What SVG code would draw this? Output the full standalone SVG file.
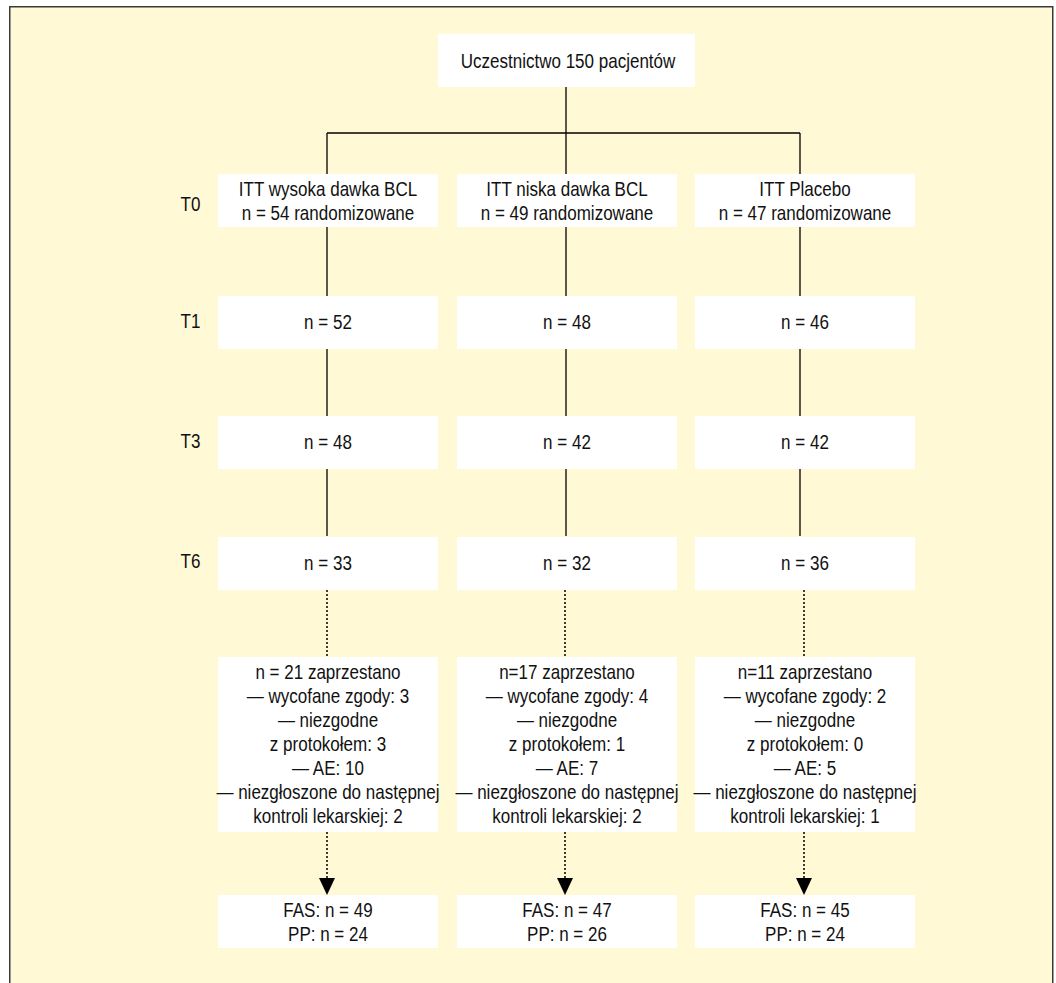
<svg xmlns="http://www.w3.org/2000/svg" width="1056" height="983" viewBox="0 0 1056 983">
<style>
.bg{fill:#FFF9D6;stroke:#3a3a3a;stroke-width:1.5}
.box{fill:#FFFFFF;stroke:none}
.t{font-family:"Liberation Sans",Arial,sans-serif;font-size:20.5px;fill:#111;text-anchor:middle;transform-box:fill-box;transform-origin:center;transform:scaleX(0.83)}
.ln{stroke:#000;stroke-width:1.3;fill:none}
.dot{stroke:#000;stroke-width:1.5;fill:none;stroke-dasharray:2,2}
.ah{fill:#000}
</style>
<rect width="1056" height="983" fill="#FFFFFF"/>
<rect class="bg" x="9.75" y="6.75" width="1043" height="990"/>
<g id="connectors">
<line class="ln" x1="566" y1="87" x2="566" y2="536"/>
<line class="ln" x1="327" y1="133" x2="800" y2="133"/>
<line class="ln" x1="327" y1="133" x2="327" y2="536"/>
<line class="ln" x1="800" y1="133" x2="800" y2="536"/>
<line class="dot" x1="327" y1="590" x2="327" y2="657"/>
<line class="dot" x1="565" y1="590" x2="565" y2="657"/>
<line class="dot" x1="804" y1="590" x2="804" y2="657"/>
<line class="dot" x1="327" y1="832" x2="327" y2="880"/>
<line class="dot" x1="565" y1="832" x2="565" y2="880"/>
<line class="dot" x1="804" y1="832" x2="804" y2="880"/>
<polygon class="ah" points="319,878 335,878 327,895"/>
<polygon class="ah" points="557,878 573,878 565,895"/>
<polygon class="ah" points="796,878 812,878 804,895"/>
</g>
<g id="labels">
<text class="t" x="190.5" y="211">T0</text>
<text class="t" x="190.5" y="328">T1</text>
<text class="t" x="190.5" y="448">T3</text>
<text class="t" x="190.5" y="568">T6</text>
</g>
<g id="start">
<rect class="box" x="438" y="34" width="257" height="53"/>
<text class="t" x="568" y="68">Uczestnictwo 150 pacjentów</text>
</g>
<g id="t0-high">
<rect class="box" x="218" y="174" width="220" height="53"/>
<text class="t" x="328" y="196">ITT wysoka dawka BCL</text>
<text class="t" x="328" y="220">n = 54 randomizowane</text>
</g>
<g id="t0-low">
<rect class="box" x="457" y="174" width="220" height="53"/>
<text class="t" x="567" y="196">ITT niska dawka BCL</text>
<text class="t" x="567" y="220">n = 49 randomizowane</text>
</g>
<g id="t0-placebo">
<rect class="box" x="695" y="174" width="220" height="53"/>
<text class="t" x="805" y="196">ITT Placebo</text>
<text class="t" x="805" y="220">n = 47 randomizowane</text>
</g>
<g id="t1-high">
<rect class="box" x="218" y="296" width="220" height="53"/>
<text class="t" x="328" y="329">n = 52</text>
</g>
<g id="t1-low">
<rect class="box" x="457" y="296" width="220" height="53"/>
<text class="t" x="567" y="329">n = 48</text>
</g>
<g id="t1-placebo">
<rect class="box" x="695" y="296" width="220" height="53"/>
<text class="t" x="805" y="329">n = 46</text>
</g>
<g id="t3-high">
<rect class="box" x="218" y="416" width="220" height="53"/>
<text class="t" x="328" y="449">n = 48</text>
</g>
<g id="t3-low">
<rect class="box" x="457" y="416" width="220" height="53"/>
<text class="t" x="567" y="449">n = 42</text>
</g>
<g id="t3-placebo">
<rect class="box" x="695" y="416" width="220" height="53"/>
<text class="t" x="805" y="449">n = 42</text>
</g>
<g id="t6-high">
<rect class="box" x="218" y="537" width="220" height="53"/>
<text class="t" x="328" y="570">n = 33</text>
</g>
<g id="t6-low">
<rect class="box" x="457" y="537" width="220" height="53"/>
<text class="t" x="567" y="570">n = 32</text>
</g>
<g id="t6-placebo">
<rect class="box" x="695" y="537" width="220" height="53"/>
<text class="t" x="805" y="570">n = 36</text>
</g>
<g id="drop-high">
<rect class="box" x="218" y="657" width="220" height="175"/>
<text class="t" x="328" y="679">n = 21 zaprzestano</text>
<text class="t" x="328" y="703">— wycofane zgody: 3</text>
<text class="t" x="328" y="727">— niezgodne</text>
<text class="t" x="328" y="751">z protokołem: 3</text>
<text class="t" x="328" y="775">— AE: 10</text>
<text class="t" x="328" y="799">— niezgłoszone do następnej</text>
<text class="t" x="328" y="823">kontroli lekarskiej: 2</text>
</g>
<g id="drop-low">
<rect class="box" x="457" y="657" width="220" height="175"/>
<text class="t" x="567" y="679">n=17 zaprzestano</text>
<text class="t" x="567" y="703">— wycofane zgody: 4</text>
<text class="t" x="567" y="727">— niezgodne</text>
<text class="t" x="567" y="751">z protokołem: 1</text>
<text class="t" x="567" y="775">— AE: 7</text>
<text class="t" x="567" y="799">— niezgłoszone do następnej</text>
<text class="t" x="567" y="823">kontroli lekarskiej: 2</text>
</g>
<g id="drop-placebo">
<rect class="box" x="695" y="657" width="220" height="175"/>
<text class="t" x="805" y="679">n=11 zaprzestano</text>
<text class="t" x="805" y="703">— wycofane zgody: 2</text>
<text class="t" x="805" y="727">— niezgodne</text>
<text class="t" x="805" y="751">z protokołem: 0</text>
<text class="t" x="805" y="775">— AE: 5</text>
<text class="t" x="805" y="799">— niezgłoszone do następnej</text>
<text class="t" x="805" y="823">kontroli lekarskiej: 1</text>
</g>
<g id="final-high">
<rect class="box" x="218" y="895" width="220" height="53"/>
<text class="t" x="328" y="917">FAS: n = 49</text>
<text class="t" x="328" y="941">PP: n = 24</text>
</g>
<g id="final-low">
<rect class="box" x="457" y="895" width="220" height="53"/>
<text class="t" x="567" y="917">FAS: n = 47</text>
<text class="t" x="567" y="941">PP: n = 26</text>
</g>
<g id="final-placebo">
<rect class="box" x="695" y="895" width="220" height="53"/>
<text class="t" x="805" y="917">FAS: n = 45</text>
<text class="t" x="805" y="941">PP: n = 24</text>
</g>
</svg>
